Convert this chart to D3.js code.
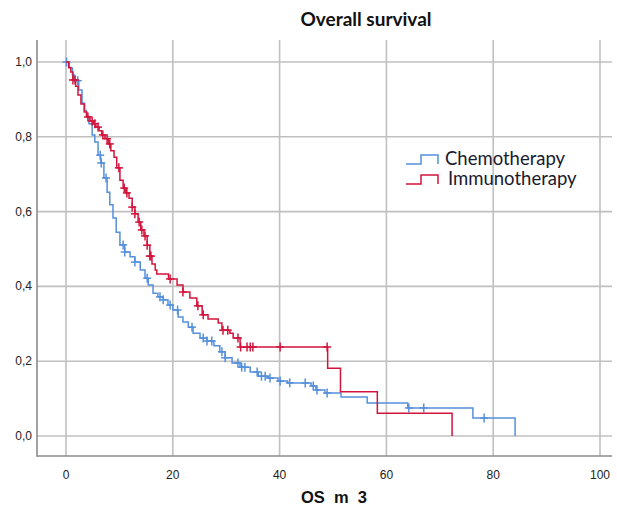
<!DOCTYPE html>
<html><head><meta charset="utf-8">
<script src="https://cdn.jsdelivr.net/npm/d3@7"></script>
<style>body{margin:0;background:#fff}svg{display:block}</style>
</head><body><svg id="c" width="617" height="506"></svg>
<script>
// ---- data ----
const seriesNames = ["Chemotherapy", "Immunotherapy"];
const xTicks = [0, 20, 40, 60, 80, 100];
const yTicks = [0, 0.2, 0.4, 0.6, 0.8, 1.0];
// step points: [time, survival after this time]
const chemoSteps = [[0,1],[0.6,0.984],[1.2,0.965],[1.6,0.95],[2.4,0.925],[3.0,0.89],[3.5,0.87],[3.8,0.855],[4.3,0.835],[4.9,0.805],[5.4,0.786],[6.0,0.751],[6.5,0.73],[7.1,0.69],[7.7,0.652],[8.2,0.618],[8.8,0.583],[9.4,0.545],[10.1,0.511],[11.0,0.492],[12.0,0.479],[12.9,0.465],[13.9,0.444],[14.8,0.422],[15.4,0.404],[16.3,0.382],[17.2,0.372],[18.2,0.364],[19.1,0.35],[20.0,0.337],[21.0,0.318],[21.9,0.305],[22.9,0.291],[23.8,0.275],[25.1,0.262],[26.4,0.254],[27.7,0.241],[28.8,0.225],[29.8,0.209],[31.1,0.195],[32.6,0.184],[34.5,0.171],[36.0,0.16],[37.8,0.155],[39.7,0.147],[41.5,0.142],[45.9,0.134],[46.8,0.123],[48.5,0.115],[51.5,0.104],[56.4,0.088],[64.0,0.075],[76.2,0.048],[84.1,0]];
const immunoSteps = [[0,1],[0.5,0.985],[0.9,0.973],[1.3,0.952],[1.8,0.935],[2.25,0.912],[2.8,0.888],[3.4,0.866],[3.9,0.853],[4.5,0.842],[5.1,0.835],[5.6,0.826],[6.2,0.816],[6.7,0.805],[7.3,0.795],[7.9,0.781],[8.4,0.763],[9.0,0.745],[9.5,0.717],[10.1,0.684],[10.7,0.663],[11.2,0.65],[11.8,0.636],[12.4,0.612],[12.9,0.594],[13.5,0.572],[14.0,0.551],[14.6,0.535],[15.2,0.51],[15.7,0.481],[16.1,0.46],[16.7,0.444],[17.0,0.433],[19.2,0.42],[20.8,0.404],[21.9,0.385],[23.2,0.369],[24.5,0.348],[25.5,0.324],[26.6,0.313],[28.5,0.302],[29.2,0.283],[30.7,0.275],[31.3,0.262],[32.6,0.238],[49.0,0.181],[51.4,0.118],[58.3,0.061],[72.3,0]];
// censoring times
const chemoCensor = [0.1,2.2,6.4,6.6,7.5,10.7,11.0,12.9,15.2,17.6,18.2,19.5,20.9,23.6,25.7,26.4,27.3,29.2,29.8,32.2,32.9,33.5,35.8,36.6,37.3,38.2,40.1,41.9,44.8,46.3,47.0,48.9,64.2,67.0,78.3];
const immunoCensor = [1.3,1.7,4.1,4.9,5.4,6.0,6.9,7.7,8.2,9.9,10.9,11.4,12.4,12.9,13.7,14.2,14.8,15.2,15.7,15.9,19.5,21.9,24.7,25.7,29.4,30.3,32.2,32.7,33.9,34.5,35.0,40.1,48.9];
const title = "Overall survival";
const xLabel = "OS  m  3";

// ---- drawing ----
const svg = d3.select("#c");
const colors = ["#5590dc", "#d2143c"];
const x = d3.scaleLinear().domain([0,100]).range([66,600]);
const y = d3.scaleLinear().domain([0,1]).range([436,62]);
const L = 37, R = 612, T = 40, B = 456;

// grid
svg.append("g").selectAll("line").data(yTicks).join("line")
  .attr("x1", L).attr("x2", R).attr("y1", d=>y(d)).attr("y2", d=>y(d))
  .attr("stroke", "#c0c0c0").attr("stroke-width", 1.6);
svg.append("g").selectAll("line").data(xTicks).join("line")
  .attr("x1", d=>x(d)).attr("x2", d=>x(d)).attr("y1", T).attr("y2", B)
  .attr("stroke", "#c0c0c0").attr("stroke-width", 1.6);
// axes lines
svg.append("line").attr("x1", L).attr("x2", L).attr("y1", T).attr("y2", B+0.8)
  .attr("stroke", "#8c8c8c").attr("stroke-width", 1.6);
svg.append("line").attr("x1", L).attr("x2", R).attr("y1", B).attr("y2", B)
  .attr("stroke", "#8c8c8c").attr("stroke-width", 1.6);

// tick labels
const fmt = d => d3.format(".1f")(d).replace(".", ",");
svg.append("g").selectAll("text").data(yTicks).join("text")
  .attr("x", 32).attr("y", d=>y(d)+4).attr("text-anchor","end")
  .attr("font-family","Liberation Sans, Arial, sans-serif").attr("font-size",12).attr("fill","#222")
  .text(fmt);
svg.append("g").selectAll("text").data(xTicks).join("text")
  .attr("x", d=>x(d)).attr("y", 479).attr("text-anchor","middle")
  .attr("font-family","Liberation Sans, Arial, sans-serif").attr("font-size",12).attr("fill","#222")
  .text(d=>d);

// curves
const line = d3.line().x(d=>x(d[0])).y(d=>y(d[1])).curve(d3.curveStepAfter);
const allSteps = [chemoSteps, immunoSteps];
const allCensor = [chemoCensor, immunoCensor];
function survAt(steps, t){ let s = 1; for (const p of steps){ if (p[0] <= t) s = p[1]; else break; } return s; }
allSteps.forEach((st,i)=>{
  svg.append("path").attr("d", line(st)).attr("fill","none")
    .attr("stroke", colors[i]).attr("stroke-width", 1.5);
  const g = svg.append("g").attr("stroke", colors[i]).attr("stroke-width", 1.5);
  allCensor[i].forEach(t=>{
    const px = x(t), py = y(survAt(st,t));
    g.append("line").attr("x1",px).attr("x2",px).attr("y1",py-4.5).attr("y2",py+4.5);
    g.append("line").attr("x1",px-4).attr("x2",px+4).attr("y1",py).attr("y2",py);
  });
});

// legend
const leg = svg.append("g");
seriesNames.forEach((n,i)=>{
  const yy = [164, 184][i];
  const x0 = 406, x1 = 438;
  leg.append("path").attr("d", `M${x0},${yy}H${x0+15}V${yy-9}H${x1}V${yy}`)
    .attr("fill","none").attr("stroke", colors[i]).attr("stroke-width",1.5);
  leg.append("text").attr("x", [445,448][i]).attr("y", yy+1)
    .attr("font-family","Lato, sans-serif").attr("font-size",18.5).attr("fill","#1a1a2e")
    .text(n);
});

// title and axis label
svg.append("text").attr("x", 366).attr("y", 26).attr("text-anchor","middle")
  .attr("font-family","Lato, sans-serif").attr("font-weight","bold").attr("font-size",19).attr("fill","#111")
  .text(title);
svg.append("text").attr("x", 334).attr("y", 503).attr("text-anchor","middle")
  .attr("font-family","Liberation Sans, Arial, sans-serif").attr("font-weight","bold").attr("font-size",16.5).attr("fill","#111")
  .attr("xml:space","preserve").style("white-space","pre")
  .text(xLabel);
</script></body></html>
